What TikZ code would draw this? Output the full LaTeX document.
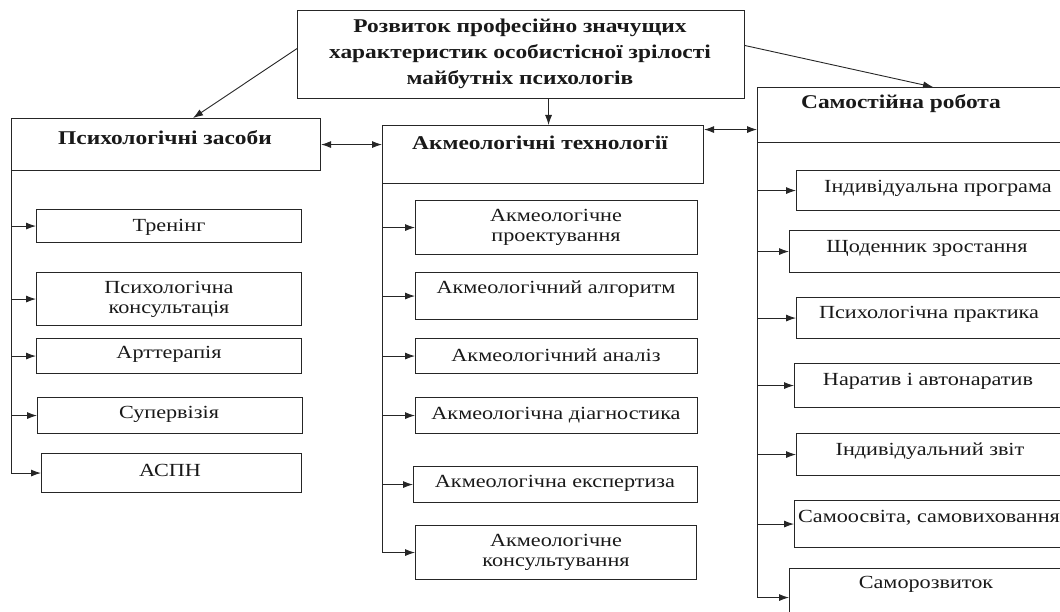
\documentclass[tikz,border=0pt]{standalone}
\usepackage{fontspec}
\setmainfont[FakeStretch=1.2]{Liberation Serif}
\usetikzlibrary{arrows.meta}
\tikzset{
  box/.style={draw=black!85, line width=1.1pt, inner sep=0pt},
  txt/.style={font=\fontsize{18.5}{20}\selectfont, align=center, inner sep=0pt, text=black!90},
  btxt/.style={font=\fontsize{19.5}{26}\selectfont\bfseries, align=center, inner sep=0pt, text=black!90},
  arr/.style={-{Latex[length=10pt,width=7pt]}, line width=0.9pt, draw=black!85},
  darr/.style={{Latex[length=10pt,width=7pt]}-{Latex[length=10pt,width=7pt]}, line width=0.9pt, draw=black!85},
  link/.style={line width=0.9pt, draw=black!85}
}
\newcommand\mkbox[5]{\node[box,anchor=north west,minimum width={(#4-#2)*1pt},minimum height={(#5-#3)*1pt}] (#1) at (#2,#3) {};}
\begin{document}
\begin{tikzpicture}[x=1pt,y=-1pt]
\useasboundingbox (0,0) rectangle (1060,612);
% top
\mkbox{top}{297}{10}{744}{98}
\node[btxt] (topt) at (520,54) {Розвиток професійно значущих\\характеристик особистісної зрілості\\майбутніх психологів};
% headers
\mkbox{lh}{11}{118}{320}{170}
\node[btxt] (lht) at (165,138) {Психологічні засоби};
\mkbox{mh}{382}{125}{703}{183}
\node[btxt] (mht) at (540,143) {Акмеологічні технології};
\mkbox{rh}{757}{87}{1064}{142}
\node[btxt] (rht) at (901,104) {Самостійна робота};
% left children
\mkbox{l1}{36}{209}{301}{242}
\node[txt] (l1t) at (169,227) {Тренінг};
\mkbox{l2}{36}{272}{301}{325}
\node[txt] (l2t) at (169,299) {Психологічна\\консультація};
\mkbox{l3}{36}{338}{301}{373}
\node[txt] (l3t) at (169,354) {Арттерапія};
\mkbox{l4}{37}{397}{302}{433}
\node[txt] (l4t) at (169,414) {Супервізія};
\mkbox{l5}{41}{453}{301}{492}
\node[txt] (l5t) at (170,470) {АСПН};
% middle children
\mkbox{m1}{415}{200}{697}{254}
\node[txt] (m1t) at (556,227) {Акмеологічне\\проектування};
\mkbox{m2}{415}{272}{697}{319}
\node[txt] (m2t) at (556,289) {Акмеологічний алгоритм};
\mkbox{m3}{415}{338}{697}{373}
\node[txt] (m3t) at (556,355) {Акмеологічний аналіз};
\mkbox{m4}{415}{397}{697}{433}
\node[txt] (m4t) at (556,415) {Акмеологічна діагностика};
\mkbox{m5}{413}{466}{697}{502}
\node[txt] (m5t) at (555,483) {Акмеологічна експертиза};
\mkbox{m6}{415}{525}{696}{579}
\node[txt] (m6t) at (556,552) {Акмеологічне\\консультування};
% right children
\mkbox{r1}{796}{170}{1064}{210}
\node[txt] (r1t) at (938,188) {Індивідуальна програма};
\mkbox{r2}{789}{230}{1064}{272}
\node[txt] (r2t) at (927,248) {Щоденник зростання};
\mkbox{r3}{796}{297}{1064}{338}
\node[txt] (r3t) at (929,314) {Психологічна практика};
\mkbox{r4}{794}{363}{1064}{407}
\node[txt] (r4t) at (928,381) {Наратив і автонаратив};
\mkbox{r5}{796}{433}{1064}{475}
\node[txt] (r5t) at (930,451) {Індивідуальний звіт};
\mkbox{r6}{794}{500}{1064}{547}
\node[txt] (r6t) at (929,518) {Самоосвіта, самовиховання};
\mkbox{r7}{789}{568}{1064}{618}
\node[txt] (r7t) at (926,584) {Саморозвиток};
% top connectors
\draw[arr] ([yshift=6pt]top.west) -- ([xshift=27pt]lh.north);
\coordinate (mhin) at ([xshift=5.5pt]mh.north);
\draw[arr] (mhin |- top.south) -- (mhin);
\draw[arr] ([yshift=9pt]top.east) -- ([xshift=22pt]rh.north);
% double arrows
\draw[darr] (lh.east) -- (lh.east -| mh.west);
\coordinate (rhl) at ([yshift=-14.5pt]rh.west);
\draw[darr] (rhl -| mh.east) -- (rhl);
% left trunk
\draw[link] (lh.south west) -- (lh.south west |- l5.west);
\foreach \c in {l1,l2,l3,l4,l5} \draw[arr] (lh.south west |- \c.west) -- (\c.west);
% middle trunk
\draw[link] (mh.south west) -- (mh.south west |- m6.west);
\foreach \c in {m1,m2,m3,m4,m5,m6} \draw[arr] (mh.south west |- \c.west) -- (\c.west);
% right trunk
\coordinate (rtb) at ([yshift=-4pt]r7.west);
\draw[link] (rh.south west) -- (rh.south west |- rtb);
\foreach \c in {r1,r2,r3,r4,r5,r6} \draw[arr] (rh.south west |- \c.west) -- (\c.west);
\draw[arr] (rh.south west |- rtb) -- (rtb);
\end{tikzpicture}
\end{document}
